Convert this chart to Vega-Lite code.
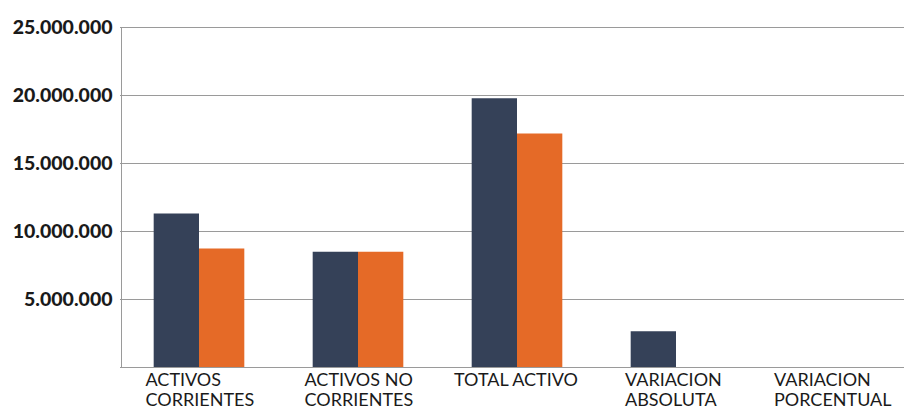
{
  "$schema": "https://vega.github.io/schema/vega-lite/v6.json",
  "autosize": {"type": "none"},
  "padding": {"left": 121, "top": 27, "right": 0, "bottom": 43},
  "width": 783,
  "height": 340,
  "background": "white",
  "data": {
    "values": [
      {"categoria": "ACTIVOS CORRIENTES", "serie": "Periodo 1", "valor": 11290000},
      {"categoria": "ACTIVOS CORRIENTES", "serie": "Periodo 2", "valor": 8710000},
      {"categoria": "ACTIVOS NO CORRIENTES", "serie": "Periodo 1", "valor": 8480000},
      {"categoria": "ACTIVOS NO CORRIENTES", "serie": "Periodo 2", "valor": 8480000},
      {"categoria": "TOTAL ACTIVO", "serie": "Periodo 1", "valor": 19770000},
      {"categoria": "TOTAL ACTIVO", "serie": "Periodo 2", "valor": 17170000},
      {"categoria": "VARIACION ABSOLUTA", "serie": "Periodo 1", "valor": 2620000},
      {"categoria": "VARIACION ABSOLUTA", "serie": "Periodo 2", "valor": 0},
      {"categoria": "VARIACION PORCENTUAL", "serie": "Periodo 1", "valor": 0},
      {"categoria": "VARIACION PORCENTUAL", "serie": "Periodo 2", "valor": 0}
    ]
  },
  "mark": {"type": "bar"},
  "encoding": {
    "x": {
      "field": "categoria",
      "type": "nominal",
      "sort": null,
      "scale": {"range": [-1.5, 793.5], "paddingInner": 0.43, "paddingOuter": 0.215},
      "axis": {
        "title": null,
        "domain": false,
        "ticks": false,
        "grid": false,
        "labelAngle": 0,
        "labelFont": "Lato",
        "labelFontSize": 18,
        "labelColor": "#1a1a1a",
        "labelAlign": "left",
        "labelBaseline": "top",
        "labelPadding": 4,
        "labelLineHeight": 20.5,
        "labelOverlap": false,
        "labelBound": false,
        "labelFlush": false,
        "labelLimit": 300,
        "labelOffset": {
          "condition": [
            {"test": "datum.value == 'TOTAL ACTIVO'", "value": -63},
            {"test": "datum.value == 'VARIACION ABSOLUTA'", "value": -51},
            {"test": "datum.value == 'VARIACION PORCENTUAL'", "value": -61}
          ],
          "value": -53.5
        },
        "labelExpr": "datum.value == 'ACTIVOS CORRIENTES' ? ['ACTIVOS', 'CORRIENTES'] : datum.value == 'ACTIVOS NO CORRIENTES' ? ['ACTIVOS NO', 'CORRIENTES'] : datum.value == 'VARIACION ABSOLUTA' ? ['VARIACION', 'ABSOLUTA'] : datum.value == 'VARIACION PORCENTUAL' ? ['VARIACION', 'PORCENTUAL'] : datum.value"
      }
    },
    "xOffset": {"field": "serie", "type": "nominal", "scale": {"paddingInner": 0, "paddingOuter": 0}},
    "y": {
      "field": "valor",
      "type": "quantitative",
      "scale": {"domain": [0, 25000000], "nice": false},
      "axis": {
        "title": null,
        "values": [0, 5000000, 10000000, 15000000, 20000000, 25000000],
        "domain": true,
        "domainColor": "#9a9a9a",
        "domainWidth": 1,
        "ticks": false,
        "grid": true,
        "gridColor": "#9a9a9a",
        "gridWidth": 1,
        "labelFont": "Lato",
        "labelFontWeight": 900,
        "labelFontSize": 19.5,
        "labelColor": "#1a1a1a",
        "labelPadding": 9,
        "labelExpr": "datum.value == 0 ? '' : replace(format(datum.value, ',d'), /,/g, '.')"
      }
    },
    "color": {
      "field": "serie",
      "type": "nominal",
      "scale": {"range": ["#354158", "#E56A27"]},
      "legend": null
    }
  },
  "config": {"view": {"stroke": null}}
}
